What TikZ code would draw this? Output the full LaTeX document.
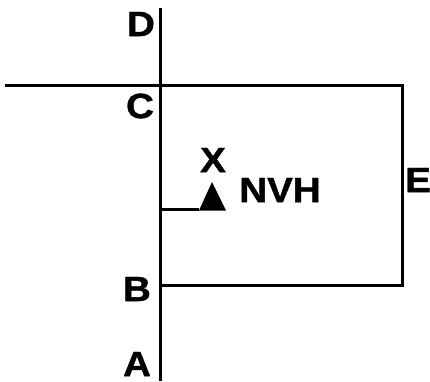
\documentclass[tikz,border=0pt]{standalone}
\usepackage{fontspec}
\setmainfont{Liberation Sans}
\newfontfamily\labfont[FakeStretch=1.1,FakeBold=1.2]{Liberation Sans Bold}
\begin{document}
\begin{tikzpicture}[x=1pt,y=-1pt,
  wire/.style={line width=3pt,black},
  lbl/.style={inner sep=0pt,font=\labfont\fontsize{35}{35}\selectfont}]
\useasboundingbox (0,0) rectangle (430,381);
\coordinate (top) at (160,8);
\coordinate (bot) at (160,381);
\coordinate (left) at (6,85);
\coordinate (c) at (160,85);
\coordinate (ne) at (402,85);
\coordinate (se) at (402,285);
\coordinate (b) at (160,285);
\coordinate (stub) at (160,209);
\coordinate (tl) at (199,209);
\coordinate (tr) at (226,209);
\coordinate (tapex) at (212,182);
\draw[wire] (top) -- (bot);
\draw[wire,line cap=rect] (left) -- (ne) -- (se) -- (b);
\draw[wire] (stub) -- (tl);
\fill (199,210.5) -- (tapex) -- (226,210.5) -- cycle;
\node[lbl] (D) at (141,24) {D};
\node[lbl] (C) at (140,106) {C};
\node[lbl] (B) at (137,289) {B};
\node[lbl] (A) at (137,364) {A};
\node[lbl] (E) at (418,180) {E};
\node[lbl] (X) at (213,160) {X};
\node[lbl] (NVH) at (280,190) {NVH};
\end{tikzpicture}
\end{document}
